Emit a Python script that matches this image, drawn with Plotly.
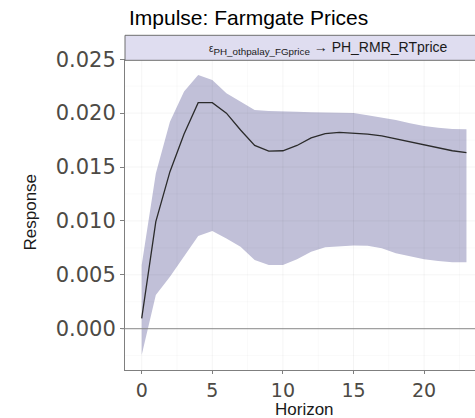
import plotly.graph_objects as go

# Impulse response of PH_RMR_RTprice to a farmgate price shock
horizon = list(range(24))
response = [0.00096, 0.00993, 0.01457, 0.01806, 0.02097, 0.02097, 0.02000, 0.01843,
            0.01700, 0.01648, 0.01651, 0.01700, 0.01770, 0.01810, 0.01822, 0.01815,
            0.01806, 0.01788, 0.01760, 0.01735, 0.01706, 0.01675, 0.01651, 0.01633]
upper = [0.00590, 0.01440, 0.01920, 0.02200, 0.02353, 0.02307, 0.02184, 0.02106,
         0.02029, 0.02020, 0.02013, 0.02013, 0.02007, 0.02004, 0.02007, 0.02000,
         0.01980, 0.01961, 0.01936, 0.01905, 0.01880, 0.01865, 0.01852, 0.01850]
lower = [-0.00244, 0.00313, 0.00483, 0.00668, 0.00860, 0.00906, 0.00838, 0.00760,
         0.00637, 0.00590, 0.00590, 0.00644, 0.00714, 0.00755, 0.00767, 0.00772,
         0.00770, 0.00746, 0.00699, 0.00668, 0.00644, 0.00628, 0.00616, 0.00616]

x_ticks = [0, 5, 10, 15, 20]
y_ticks = [0.000, 0.005, 0.010, 0.015, 0.020, 0.025]
x_minor = [2.5, 7.5, 12.5, 17.5, 22.5]
y_minor = [-0.0025, 0.0025, 0.0075, 0.0125, 0.0175, 0.0225]

title_text = "Impulse: Farmgate Prices"
strip_text = ("<span style='font-size:10px'>ε</span><sub>PH_othpalay_FGprice</sub>"
              " → PH_RMR_RTprice")
x_title = "Horizon"
y_title = "Response"

band_color = "rgb(193,192,216)"
axis_color = "#7f7f7f"
tick_color = "#4d4a45"
label_font = dict(family="Liberation Sans", size=17, color="#1a1a1a")

# plot area in pixels
W, H = 475, 418
L, R, T, B = 125, 0, 59, 48
PW, PH = W - L - R, H - T - B


def px_x(p):
    return (p - L) / PW


def px_y(p):
    return (H - B - p) / PH


fig = go.Figure()
fig.add_trace(go.Scatter(x=horizon, y=lower, mode="lines", line=dict(width=0),
                         showlegend=False, hoverinfo="skip"))
fig.add_trace(go.Scatter(x=horizon, y=upper, mode="lines", line=dict(width=0),
                         fill="tonexty", fillcolor=band_color,
                         showlegend=False, hoverinfo="skip"))
fig.add_trace(go.Scatter(x=horizon, y=response, mode="lines",
                         line=dict(color="#2b2b2b", width=1.3), showlegend=False))

# grid lines drawn over the band, faint on white
grid_major = "rgba(0,0,0,0.045)"
grid_minor = "rgba(0,0,0,0.035)"
shapes = []
for v in x_ticks + x_minor:
    shapes.append(dict(type="line", xref="x", yref="paper", x0=v, x1=v, y0=0, y1=1,
                       line=dict(color=grid_major if v in x_ticks else grid_minor,
                                 width=1 if v in x_ticks else 0.7),
                       layer="above"))
for v in y_ticks + y_minor:
    shapes.append(dict(type="line", xref="paper", yref="y", x0=0, x1=1, y0=v, y1=v,
                       line=dict(color=grid_major if v in y_ticks else grid_minor,
                                 width=1 if v in y_ticks else 0.7),
                       layer="above"))
# zero reference line
shapes.append(dict(type="line", xref="paper", yref="y", x0=px_x(121.5), x1=1, y0=0, y1=0,
                   line=dict(color="#8a8a8a", width=1), layer="above"))
# facet strip
shapes.append(dict(type="rect", xref="paper", yref="paper", x0=0, x1=1.05,
                   y0=px_y(60.3), y1=px_y(35.3),
                   fillcolor="rgb(223,221,240)", line=dict(color="#6e6e6e", width=1),
                   layer="above"))

fig.update_layout(
    width=W, height=H,
    margin=dict(l=L, r=R, t=T, b=B),
    paper_bgcolor="white", plot_bgcolor="white",
    shapes=shapes,
    xaxis=dict(range=[-1.183, 23.605], tickvals=x_ticks, ticktext=[str(v) for v in x_ticks],
               showgrid=False, zeroline=False, showline=True, linecolor=axis_color,
               linewidth=1, ticks="outside", ticklen=3, tickcolor=axis_color,
               tickfont=dict(family="DejaVu Sans", size=19, color=tick_color)),
    yaxis=dict(range=[-0.00383, 0.02502], tickvals=y_ticks,
               ticktext=[f"{v:.3f}" for v in y_ticks],
               showgrid=False, zeroline=False, showline=True, linecolor=axis_color,
               linewidth=1, ticks="outside", ticklen=4, tickcolor=axis_color,
               tickfont=dict(family="DejaVu Sans", size=21, color=tick_color)),
    annotations=[
        dict(text=title_text, xref="paper", yref="paper", x=px_x(248), y=px_y(17.5),
             xanchor="center", yanchor="middle", showarrow=False,
             font=dict(family="Liberation Sans", size=21, color="black")),
        dict(text=strip_text, xref="paper", yref="paper", x=px_x(328), y=px_y(47.5),
             xanchor="center", yanchor="middle", showarrow=False,
             font=dict(family="Liberation Sans", size=14, color="#1a1a1a")),
        dict(text=x_title, xref="paper", yref="paper", x=px_x(304), y=px_y(409),
             xanchor="center", yanchor="middle", showarrow=False, font=label_font),
        dict(text=y_title, xref="paper", yref="paper", x=px_x(29.5), y=px_y(212),
             xanchor="center", yanchor="middle", showarrow=False, textangle=-90,
             font=label_font),
    ],
)

fig.write_html("out.html")
